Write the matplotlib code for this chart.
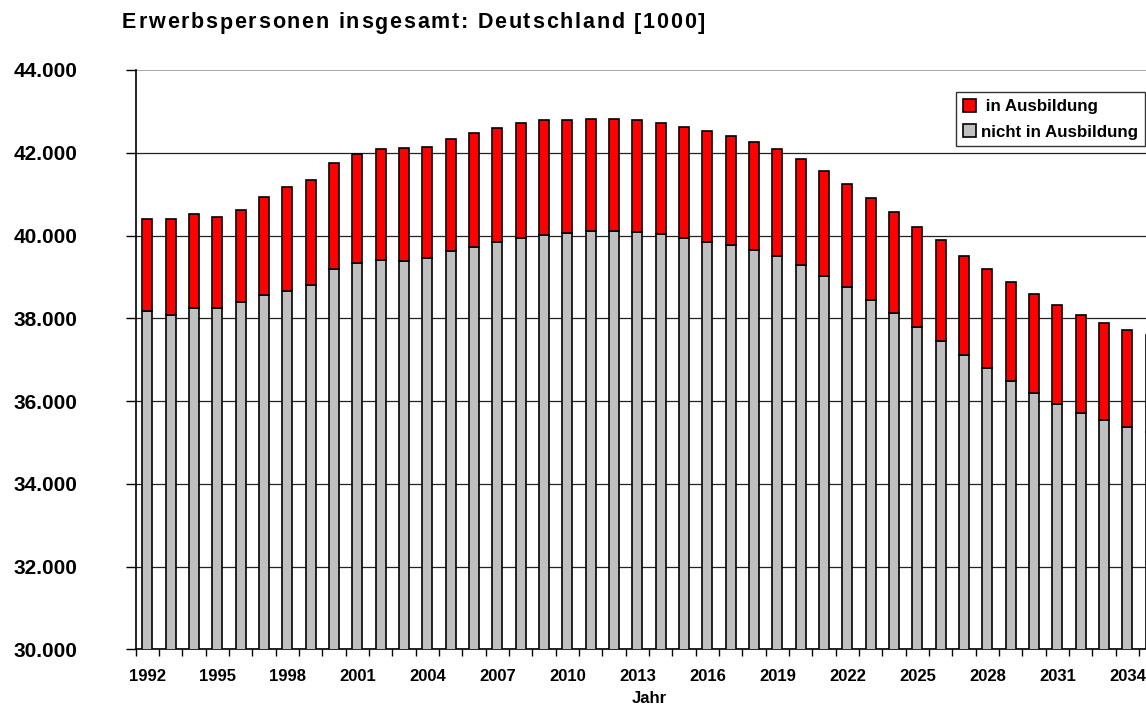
import matplotlib
matplotlib.use("Agg")
import matplotlib.pyplot as plt
from matplotlib.patches import Patch
from matplotlib.ticker import FuncFormatter, FixedLocator

# Data (in 1000 persons)
years = list(range(1992, 2036))
total = [40410, 40393, 40513, 40458, 40627, 40940, 41164, 41340, 41759, 41976,
         42080, 42104, 42145, 42330, 42475, 42610, 42723, 42788, 42795, 42827,
         42811, 42787, 42730, 42634, 42530, 42400, 42265, 42080, 41840, 41560,
         41253, 40915, 40578, 40217, 39887, 39511, 39181, 38875, 38580, 38315,
         38073, 37880, 37723, 37600]
nicht_in_ausbildung = [38170, 38075, 38255, 38255, 38390, 38570, 38670, 38795, 39181, 39325,
                       39416, 39392, 39454, 39614, 39711, 39831, 39935, 40015, 40063, 40111,
                       40111, 40087, 40039, 39942, 39855, 39775, 39655, 39494, 39277, 39030,
                       38759, 38445, 38135, 37800, 37460, 37113, 36790, 36480, 36200, 35935,
                       35711, 35530, 35380, 35250]
in_ausbildung = [t - n for t, n in zip(total, nicht_in_ausbildung)]

TITLE = "Erwerbspersonen insgesamt: Deutschland [1000]"
FONT = "Liberation Sans"
plt.rcParams["font.family"] = [FONT, "DejaVu Sans"]

fig = plt.figure(figsize=(11.46, 7.2), dpi=100)
# axes run past the right edge of the figure, like the cropped original
ax = fig.add_axes([0.1184, 0.0982, 0.8959, 0.8046])

x = list(range(len(years)))
ax.bar(x, nicht_in_ausbildung, width=0.43, color="#C0C0C0",
       edgecolor="black", linewidth=1.2, zorder=3)
ax.bar(x, in_ausbildung, bottom=nicht_in_ausbildung, width=0.43,
       color="#FF0000", edgecolor="black", linewidth=1.2, zorder=3)

ax.set_ylim(30000, 44000)
ax.set_xlim(-0.5, len(years) - 0.5)

ax.yaxis.set_major_locator(FixedLocator(range(30000, 44001, 2000)))
ax.yaxis.set_major_formatter(FuncFormatter(lambda v, p: f"{v:,.0f}".replace(",", ".")))
ax.set_axisbelow(True)
ax.grid(axis="y", color="#222222", linewidth=0.9)
for line, val in zip(ax.get_ygridlines(), range(30000, 44001, 2000)):
    if val == 44000:
        line.set_color("#999999")
        line.set_linewidth(1.2)

label_idx = [i for i in x if (years[i] - 1992) % 3 == 0]
ax.set_xticks(label_idx)
ax.set_xticklabels([str(years[i]) for i in label_idx])
ax.set_xticks([i - 0.5 for i in x] + [len(years) - 0.5], minor=True)
ax.tick_params(axis="x", which="major", length=0, pad=14, labelsize=12)
ax.tick_params(axis="x", which="minor", length=5, width=1, direction="out")
ax.tick_params(axis="y", length=7, width=1, direction="out", pad=35, labelsize=15)
for lab in ax.get_xticklabels() + ax.get_yticklabels():
    lab.set_fontweight("bold")

for side in ["top", "right"]:
    ax.spines[side].set_visible(False)
ax.spines["left"].set_linewidth(1.2)
ax.spines["bottom"].set_linewidth(1.2)

ax.set_xlabel("Jahr", fontsize=12, fontweight="bold", labelpad=5)

# title with the slightly wide letter spacing of the original
renderer = fig.canvas.get_renderer()
TITLE_SIZE = 15.5


def text_width(s):
    t = fig.text(0, 0, s + "|", fontsize=TITLE_SIZE, fontweight="bold")
    w = t.get_window_extent(renderer).width
    t.remove()
    return w


bar_w = text_width("")
natural = text_width(TITLE) - bar_w
extra = (583 - natural) / (len(TITLE) - 1)
for i, ch in enumerate(TITLE):
    px = 122 + (text_width(TITLE[:i]) - bar_w) + i * extra
    fig.text(px / 1146, 1 - 23 / 720, ch, fontsize=TITLE_SIZE, fontweight="bold",
             ha="left", va="center")

handles = [Patch(facecolor="#FF0000", edgecolor="black", linewidth=1.2),
           Patch(facecolor="#C0C0C0", edgecolor="black", linewidth=1.2)]
leg = ax.legend(handles, [" in Ausbildung", "nicht in Ausbildung"],
                loc="upper right", bbox_to_anchor=(1145 / 1146, 1 - 92 / 720),
                bbox_transform=fig.transFigure, borderaxespad=0,
                handlelength=0.8, handleheight=0.8, handletextpad=0.3,
                labelspacing=0.6, borderpad=0.4, fancybox=False,
                prop={"family": FONT, "weight": "bold", "size": 12.2})
leg.get_frame().set_edgecolor("black")
leg.get_frame().set_linewidth(1.0)

fig.savefig("out.png", dpi=100)
